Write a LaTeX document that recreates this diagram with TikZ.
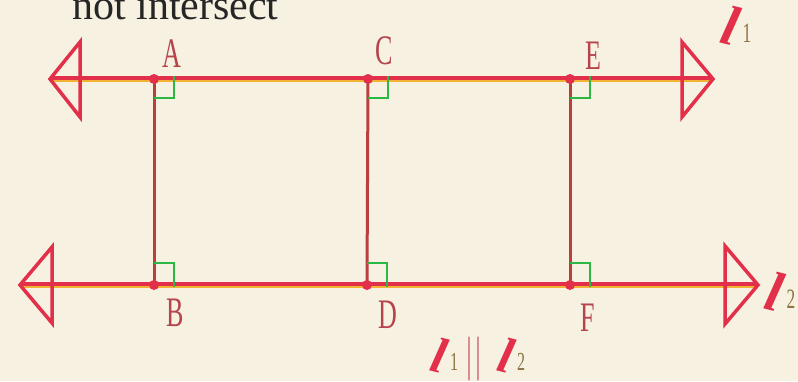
\documentclass[tikz,border=0pt]{standalone}
\usepackage{fontspec}
\setmainfont{Liberation Serif}
\definecolor{bg}{HTML}{F7F1E1}
\definecolor{lred}{HTML}{E3304A}
\definecolor{lorange}{HTML}{F4B235}
\definecolor{vred}{HTML}{B9403F}
\definecolor{rgreen}{HTML}{2DB845}
\definecolor{lab}{HTML}{B5444C}
\definecolor{sub}{HTML}{8E7443}
\definecolor{bar}{HTML}{D06A80}
\tikzset{
  mainline/.style={lred, line width=3.5pt},
  glow/.style={lorange, line width=3pt},
  vseg/.style={vred, line width=3pt},
  headtri/.style={lred, line width=3.5pt, line join=miter},
  rangle/.style={rgreen, line width=2.8pt},
  dotpt/.style={circle, fill=lred, inner sep=0pt, minimum size=10pt},
  ptlabel/.style={lab, inner sep=0pt, font=\fontsize{42}{42}\selectfont},
  elltxt/.style={inner sep=0pt}
}
\newcommand{\narrow}[1]{\scalebox{0.62}[1]{#1}}
\newcommand{\ellsym}[1]{\textcolor{lred}{\rotatebox{-14}{\fontsize{#1}{#1}\selectfont\itshape\bfseries l}}}
\begin{document}
\begin{tikzpicture}[x=1pt,y=-1pt]
\fill[bg] (0,0) rectangle (798,381);
\useasboundingbox (0,0) rectangle (798,381);
% coordinates
\coordinate (tl) at (50,79);
\coordinate (tr) at (713,79);
\coordinate (bl) at (20,285);
\coordinate (br) at (758,285);
\coordinate (A) at (154,79);
\coordinate (C) at (368,79);
\coordinate (E) at (570,79);
\coordinate (B) at (154,285);
\coordinate (D) at (367,285);
\coordinate (F) at (570,285);
% orange glow above lines
\draw[glow] ([yshift=-1.5pt]tl) -- ([yshift=-1.5pt]tr);
\draw[glow] ([yshift=-1.5pt]bl) -- ([yshift=-1.5pt]br);
% vertical segments
\draw[vseg] (A) -- (B);
\draw[vseg] (C) -- (D);
\draw[vseg] (E) -- (F);
% main lines
\draw[mainline] ([yshift=0.8pt]tl) -- ([yshift=0.8pt]tr);
\draw[mainline] ([yshift=0.8pt]bl) -- ([yshift=0.8pt]br);
% arrowheads
\draw[headtri] (tl) -- ++(30,-37) -- ++(0,75) -- cycle;
\draw[headtri] (tr) -- ++(-31,-37) -- ++(0,75) -- cycle;
\draw[headtri] (bl) -- ++(32,-38) -- ++(0,76) -- cycle;
\draw[headtri] (br) -- ++(-33,-39) -- ++(0,78) -- cycle;
% right angle marks
\draw[rangle] ([yshift=3pt]A) ++(0,22) -- ++(20,0) -- ++(0,-22);
\draw[rangle] ([yshift=3pt]C) ++(0,22) -- ++(20,0) -- ++(0,-22);
\draw[rangle] ([yshift=3pt]E) ++(0,22) -- ++(20,0) -- ++(0,-22);
\draw[rangle] ([yshift=-2pt]B) ++(0,-24) -- ++(20,0) -- ++(0,24);
\draw[rangle] ([yshift=-2pt]D) ++(0,-24) -- ++(20,0) -- ++(0,24);
\draw[rangle] ([yshift=-2pt]F) ++(0,-24) -- ++(20,0) -- ++(0,24);
% dots
\foreach \p in {A,C,E,B,D,F} \node[dotpt] (dot\p) at (\p) {};
% labels
\node[ptlabel] (lA) at (172,54) {\narrow{A}};
\node[ptlabel] (lC) at (384,51) {\narrow{C}};
\node[ptlabel] (lE) at (593,56) {\narrow{E}};
\node[ptlabel] (lB) at (175,313) {\narrow{B}};
\node[ptlabel] (lD) at (388,315) {\narrow{D}};
\node[ptlabel] (lF) at (588,318) {\narrow{F}};
% line names
\node[elltxt, anchor=base west] (l1) at (718,42) {\ellsym{56}\textcolor{sub}{\fontsize{28}{28}\selectfont\narrow{1}}};
\node[elltxt, anchor=base west] (l2) at (762,308) {\ellsym{56}\textcolor{sub}{\fontsize{28}{28}\selectfont\narrow{2}}};
% top text
\node[anchor=base west, inner sep=0pt, text=black!85, font=\fontsize{42}{42}\selectfont] (top) at (72,19) {not intersect};
% parallel statement
\node[elltxt, anchor=base west] (par) at (428,370) {\ellsym{50}\textcolor{sub}{\fontsize{26}{26}\selectfont\narrow{1}}\hspace{8pt}\textcolor{bar}{\fontsize{48}{48}\selectfont\narrow{|\hspace{5pt}|}}\hspace{14pt}\ellsym{50}\textcolor{sub}{\fontsize{26}{26}\selectfont\narrow{2}}};
\end{tikzpicture}
\end{document}
